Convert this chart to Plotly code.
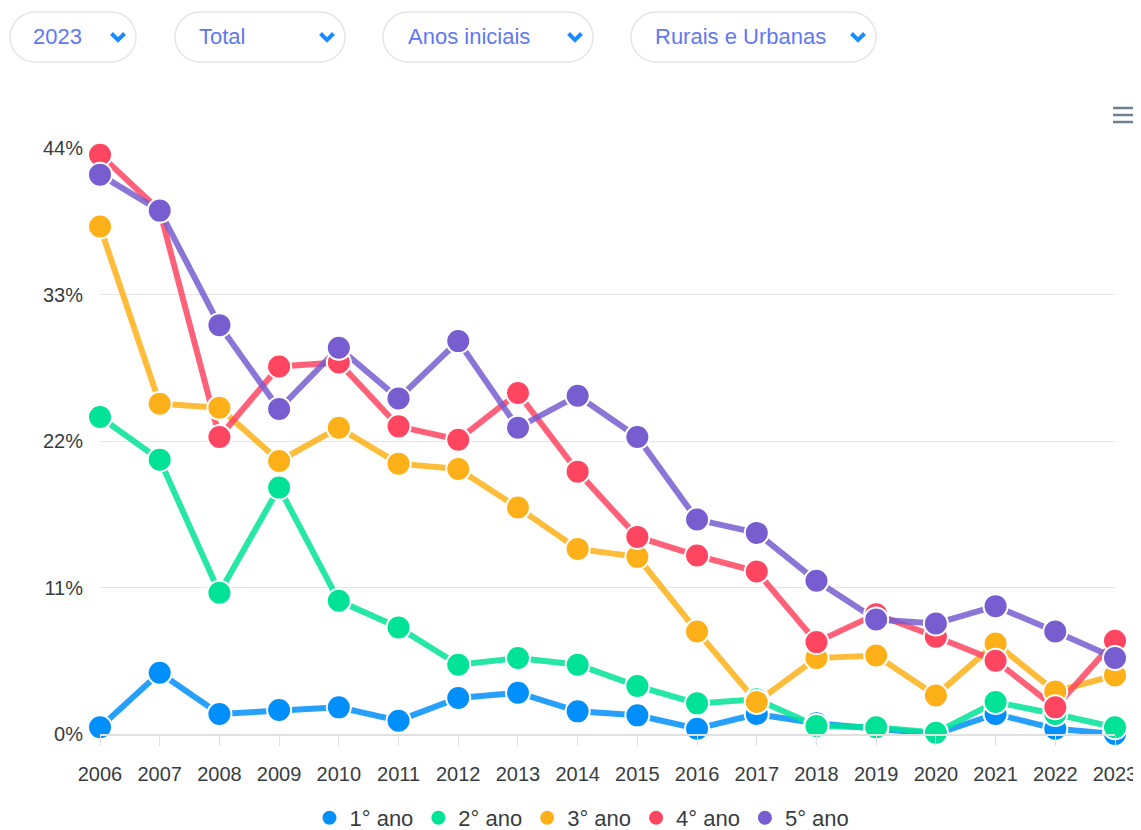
import math
import plotly.graph_objects as go

# ---------------- data ----------------
years = list(range(2006, 2024))
year_labels = [str(y) for y in years]

ano1 = [0.5, 4.6, 1.5, 1.8, 2.0, 1.0, 2.7, 3.1, 1.7, 1.4, 0.4, 1.5, 0.8, 0.4, 0.0, 1.5, 0.4, 0.0]
ano2 = [23.8, 20.6, 10.6, 18.5, 10.0, 8.0, 5.2, 5.7, 5.2, 3.6, 2.3, 2.6, 0.6, 0.5, 0.1, 2.4, 1.5, 0.5]
ano3 = [38.1, 24.8, 24.5, 20.5, 23.0, 20.3, 19.9, 17.0, 13.9, 13.3, 7.7, 2.4, 5.7, 5.9, 2.9, 6.8, 3.2, 4.4]
ano4 = [43.5, 39.3, 22.3, 27.6, 27.9, 23.1, 22.1, 25.6, 19.7, 14.8, 13.4, 12.2, 6.9, 9.0, 7.3, 5.5, 2.0, 7.0]
ano5 = [42.0, 39.3, 30.7, 24.4, 29.0, 25.2, 29.5, 23.0, 25.4, 22.3, 16.1, 15.1, 11.5, 8.6, 8.3, 9.6, 7.7, 5.7]

series_names = ["1° ano", "2° ano", "3° ano", "4° ano", "5° ano"]
series_values = [ano1, ano2, ano3, ano4, ano5]
colors = ["#008FFB", "#00E396", "#FEB019", "#FF4560", "#775DD0"]
line_colors = ["rgba(0,143,251,0.85)", "rgba(0,227,150,0.85)", "rgba(254,176,25,0.85)",
               "rgba(255,69,96,0.85)", "rgba(119,93,208,0.85)"]

y_ticks = [0, 11, 22, 33, 44]
y_ticktext = [f"{v}%" for v in y_ticks]

dropdown_labels = ["2023", "Total", "Anos iniciais", "Rurais e Urbanas"]

# ---------------- layout geometry ----------------
OFF = 8  # page body margin
W, H = 1141 - OFF, 830 - OFF
# plot area in page pixels: x 100..1115, y 148..734
PX0, PX1, PY0, PY1 = 100, 1115, 148, 734
L, T = PX0 - OFF, PY0 - OFF
R = W - (PX1 - OFF)
B = H - (PY1 - OFF)
PW = PX1 - PX0
PH = PY1 - PY0


def px(x):
    return (x - PX0) / PW


def py(y):
    return (PY1 - y) / PH


fig = go.Figure()

# lines first
for name, vals, lc in zip(series_names, series_values, line_colors):
    fig.add_trace(go.Scatter(
        x=years, y=vals, mode="lines", line=dict(color=lc, width=6),
        showlegend=False, hoverinfo="skip", cliponaxis=False,
    ))
# markers on top
for name, vals, c in zip(series_names, series_values, colors):
    fig.add_trace(go.Scatter(
        x=years, y=vals, mode="markers", name=name,
        marker=dict(color=c, size=24, line=dict(color="white", width=2)),
        cliponaxis=False,
    ))

shapes = []
annotations = []

# dropdown pills (page pixel coords)
pills = [(10, 136, 33), (175, 345, 199), (383, 593, 408), (631, 876, 655)]
y0p, y1p = 12, 62
rad = (y1p - y0p) / 2
cy = (y0p + y1p) / 2
for (x0, x1, tx), label in zip(pills, dropdown_labels):
    pts = []
    for i in range(0, 25):
        a = -math.pi / 2 + math.pi * i / 24
        pts.append((x1 - rad + rad * math.cos(a), cy + rad * math.sin(a)))
    for i in range(0, 25):
        a = math.pi / 2 + math.pi * i / 24
        pts.append((x0 + rad + rad * math.cos(a), cy + rad * math.sin(a)))
    path = "M " + " L ".join(f"{px(a):.5f},{py(b):.5f}" for a, b in pts) + " Z"
    shapes.append(dict(type="path", xref="paper", yref="paper", path=path,
                       line=dict(color="#e4e4ec", width=1.5), fillcolor="white"))
    annotations.append(dict(xref="paper", yref="paper", x=px(tx - 2), y=py(cy),
                            xanchor="left", yanchor="middle", showarrow=False,
                            text=label, font=dict(family="Liberation Sans, Arial", size=22, color="#5f78f5")))
    cx = x1 - 18
    chev = f"M {px(cx-6.5):.5f},{py(cy-3.5):.5f} L {px(cx):.5f},{py(cy+3):.5f} L {px(cx+6.5):.5f},{py(cy-3.5):.5f}"
    shapes.append(dict(type="path", xref="paper", yref="paper", path=chev,
                       line=dict(color="#1a8cff", width=4)))

# hamburger menu icon
for yy in (108, 115, 122):
    shapes.append(dict(type="line", xref="paper", yref="paper",
                       x0=px(1113), x1=px(1141), y0=py(yy), y1=py(yy),
                       line=dict(color="#6e8192", width=2.5)))

fig.update_layout(
    width=W, height=H,
    margin=dict(l=L, r=R, t=T, b=B, pad=0, autoexpand=False),
    paper_bgcolor="white", plot_bgcolor="white",
    font=dict(family="Liberation Sans, Arial", size=20, color="#373d3f"),
    shapes=shapes, annotations=annotations,
    showlegend=True,
    legend=dict(orientation="h", x=px(582), xanchor="center", y=py(818), yanchor="middle",
                font=dict(size=22, color="#373d3f"), itemsizing="trace",
                traceorder="normal", itemwidth=30, bgcolor="rgba(0,0,0,0)"),
    hovermode="x",
)
fig.update_xaxes(
    range=[2006, 2023], tickvals=years, ticktext=year_labels,
    showgrid=False, showline=True, linecolor="#e0e0e0", linewidth=2,
    ticks="outside", ticklen=10, tickcolor="#e0e0e0", tickwidth=1,
    ticklabelstandoff=11, automargin=False,
    tickfont=dict(size=20, color="#373d3f"), zeroline=False, fixedrange=True,
)
fig.update_yaxes(
    range=[0, 44], tickvals=y_ticks, ticktext=y_ticktext,
    showgrid=True, gridcolor="#e5e5e5", gridwidth=1, zeroline=False,
    ticks="", ticklabelstandoff=16, showline=False, automargin=False,
    tickfont=dict(size=20, color="#373d3f"), fixedrange=True,
)

fig.write_html("out.html", config={"displayModeBar": False})
